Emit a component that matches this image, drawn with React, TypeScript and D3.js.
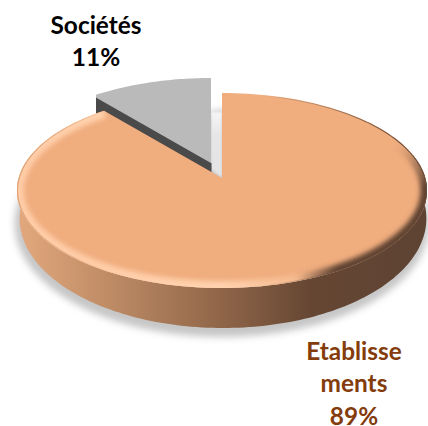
import React from "react";
import * as d3 from "d3";

const categories = ["Etablissements", "Sociétés"];
const shares = [89, 11];
const labelLines = [["Etablisse", "ments", "89%"], ["Sociétés", "11%"]];
const labelColors = ["#843C0C", "#000000"];
const labelAnchors = [[354, 360], [96, 33.5]];
const faceColors = ["#F0AD7E", "#BABABA"];

const W = 428;
const H = 426;
const cx = 222;
const cy = 190.5;
const rx = 205;
const ry = 97.5;
// vertical position of the pie centre relative to the ellipse, from the tilt of the disc
const tilt = -0.128;
const explode: [number, number] = [-11, -15];

const depthY = d3.scaleLinear().domain([93, 288]).range([16, 40]);

// Projects a point of the unit disc onto the tilted disc, keeping the outline an ellipse.
function project(a: number, r = 1): [number, number] {
  const u = r * Math.sin(a);
  const v = -r * Math.cos(a);
  const w = 1 + tilt * v;
  return [
    cx + (rx * u * Math.sqrt(1 - tilt * tilt)) / w,
    cy + (ry * (v + tilt)) / w,
  ];
}

const lower = ([x, y]: [number, number]): [number, number] => [
  cx + 1 + (x - cx) * 0.992,
  y + depthY(y),
];

const line = d3.line<[number, number]>().curve(d3.curveLinear);
const shift = (p: [number, number], d: [number, number]): [number, number] => [p[0] + d[0], p[1] + d[1]];

const arcs = d3.pie<number>().sort(null)(shares);

function arcPoints(a0: number, a1: number, n = 160): [number, number][] {
  return d3.range(n + 1).map((i) => project(a0 + ((a1 - a0) * i) / n));
}

export default function App() {
  const [main, minor] = arcs;
  const apex = project(0, 0);
  const mainOuter = arcPoints(main.startAngle, main.endAngle);
  const mainFace = line([apex, ...mainOuter])! + "Z";
  const rimPath = line(mainOuter)!;

  // Front of the rim, from the far left round to the far right.
  const frontTop = arcPoints(Math.PI * 0.42, Math.PI * 1.58);
  const frontWall = line([...frontTop, ...frontTop.map(lower).reverse()])! + "Z";
  const footprint = line(arcPoints(main.startAngle, main.endAngle).map(lower))! + "Z";

  const minorOuter = arcPoints(minor.startAngle, minor.endAngle, 40).map((p) => shift(p, explode));
  const minorApex = shift(apex, explode);
  const minorFace = line([minorApex, ...minorOuter])! + "Z";
  const wallDrop = d3.scaleLinear().domain([97, 162]).range([18, 10]);
  const cutStart = minorOuter[0];
  const minorWall =
    line([
      minorApex,
      cutStart,
      [cutStart[0], cutStart[1] + wallDrop(cutStart[1])],
      [minorApex[0], minorApex[1] + wallDrop(minorApex[1])],
    ])! + "Z";

  const gapShade = line([
    [minorApex[0], 112],
    [apex[0], 112],
    [apex[0], apex[1]],
    [minorApex[0], minorApex[1] + 6],
  ])! + "Z";

  return (
    <svg
      width={W}
      height={H}
      viewBox={`0 0 ${W} ${H}`}
      style={{ position: "absolute", left: 0, top: 0, background: "#fff" }}
    >
      <defs>
        <linearGradient id="wall" gradientUnits="userSpaceOnUse" x1={17} x2={427} y1={0} y2={0}>
          <stop offset="0" stopColor="#E3A87D" />
          <stop offset="0.22" stopColor="#BF8C66" />
          <stop offset="0.5" stopColor="#8F6548" />
          <stop offset="0.72" stopColor="#654633" />
          <stop offset="1" stopColor="#5E4333" />
        </linearGradient>
        <linearGradient id="lightRim" gradientUnits="userSpaceOnUse" x1={400} y1={100} x2={100} y2={290}>
          <stop offset="0.42" stopColor="#FFD2AE" stopOpacity="0" />
          <stop offset="0.7" stopColor="#FFD2AE" stopOpacity="1" />
          <stop offset="1" stopColor="#FFCDA8" stopOpacity="1" />
        </linearGradient>
        <radialGradient id="darkRim" gradientUnits="userSpaceOnUse" cx={410} cy={260} r={115}>
          <stop offset="0" stopColor="#5E4333" stopOpacity="1" />
          <stop offset="0.65" stopColor="#5E4333" stopOpacity="1" />
          <stop offset="1" stopColor="#5E4333" stopOpacity="0" />
        </radialGradient>
        <linearGradient id="edge" gradientUnits="userSpaceOnUse" x1={17} x2={427} y1={0} y2={0}>
          <stop offset="0" stopColor="#DC9F72" stopOpacity="1" />
          <stop offset="0.25" stopColor="#DC9F72" stopOpacity="0" />
          <stop offset="0.6" stopColor="#6B4B37" stopOpacity="0" />
          <stop offset="0.88" stopColor="#6B4B37" stopOpacity="0.85" />
          <stop offset="1" stopColor="#6B4B37" stopOpacity="1" />
        </linearGradient>
        <linearGradient id="gapFade" x1="0" x2="0" y1="0" y2="1">
          <stop offset="0" stopColor="#F6F6F6" />
          <stop offset="0.35" stopColor="#E6E6E6" />
          <stop offset="1" stopColor="#E4E4E4" />
        </linearGradient>
        <filter id="soft" x="-10%" y="-10%" width="120%" height="120%">
          <feGaussianBlur stdDeviation="3.5" />
        </filter>
        <filter id="rim" x="-10%" y="-10%" width="120%" height="120%">
          <feGaussianBlur stdDeviation="2.4" />
        </filter>
        <filter id="hair" x="-10%" y="-10%" width="120%" height="120%">
          <feGaussianBlur stdDeviation="0.5" />
        </filter>
        <filter id="slight" x="-20%" y="-20%" width="140%" height="140%">
          <feGaussianBlur stdDeviation="1.2" />
        </filter>
        <clipPath id="faceClip">
          <path d={mainFace} />
        </clipPath>
        <clipPath id="minorClip">
          <rect x={96} y={0} width={W} height={H} />
        </clipPath>
      </defs>

      <path d={footprint} fill="#C6C6C6" stroke="#C6C6C6" strokeWidth={8} filter="url(#soft)" transform="translate(-1 5)" />

      <path d={gapShade} fill="url(#gapFade)" filter="url(#slight)" />

      <g clipPath="url(#minorClip)">
        <path d={minorWall} fill="#4A4A4A" stroke="#4A4A4A" strokeWidth={1} strokeLinejoin="round" />
        <path d={minorFace} fill={faceColors[1]} />
      </g>

      <path d={frontWall} fill="url(#wall)" />
      <path d={mainFace} fill={faceColors[0]} />
      <g clipPath="url(#faceClip)">
        <path d={rimPath} fill="none" stroke="url(#lightRim)" strokeWidth={14} filter="url(#rim)" />
        <path d={rimPath} fill="none" stroke="url(#darkRim)" strokeWidth={13} filter="url(#rim)" />
        <path d={rimPath} fill="none" stroke="url(#edge)" strokeWidth={2.2} filter="url(#hair)" />
      </g>

      {categories.map((name, i) => (
        <text
          key={name}
          textAnchor="middle"
          fontFamily="Lato, 'Open Sans', sans-serif"
          fontWeight={700}
          fontSize={24.4}
          fill={labelColors[i]}
        >
          {labelLines[i].map((t, j) => (
            <tspan key={t} x={labelAnchors[i][0]} y={labelAnchors[i][1] + j * 32.4}>
              {t}
            </tspan>
          ))}
        </text>
      ))}
    </svg>
  );
}
